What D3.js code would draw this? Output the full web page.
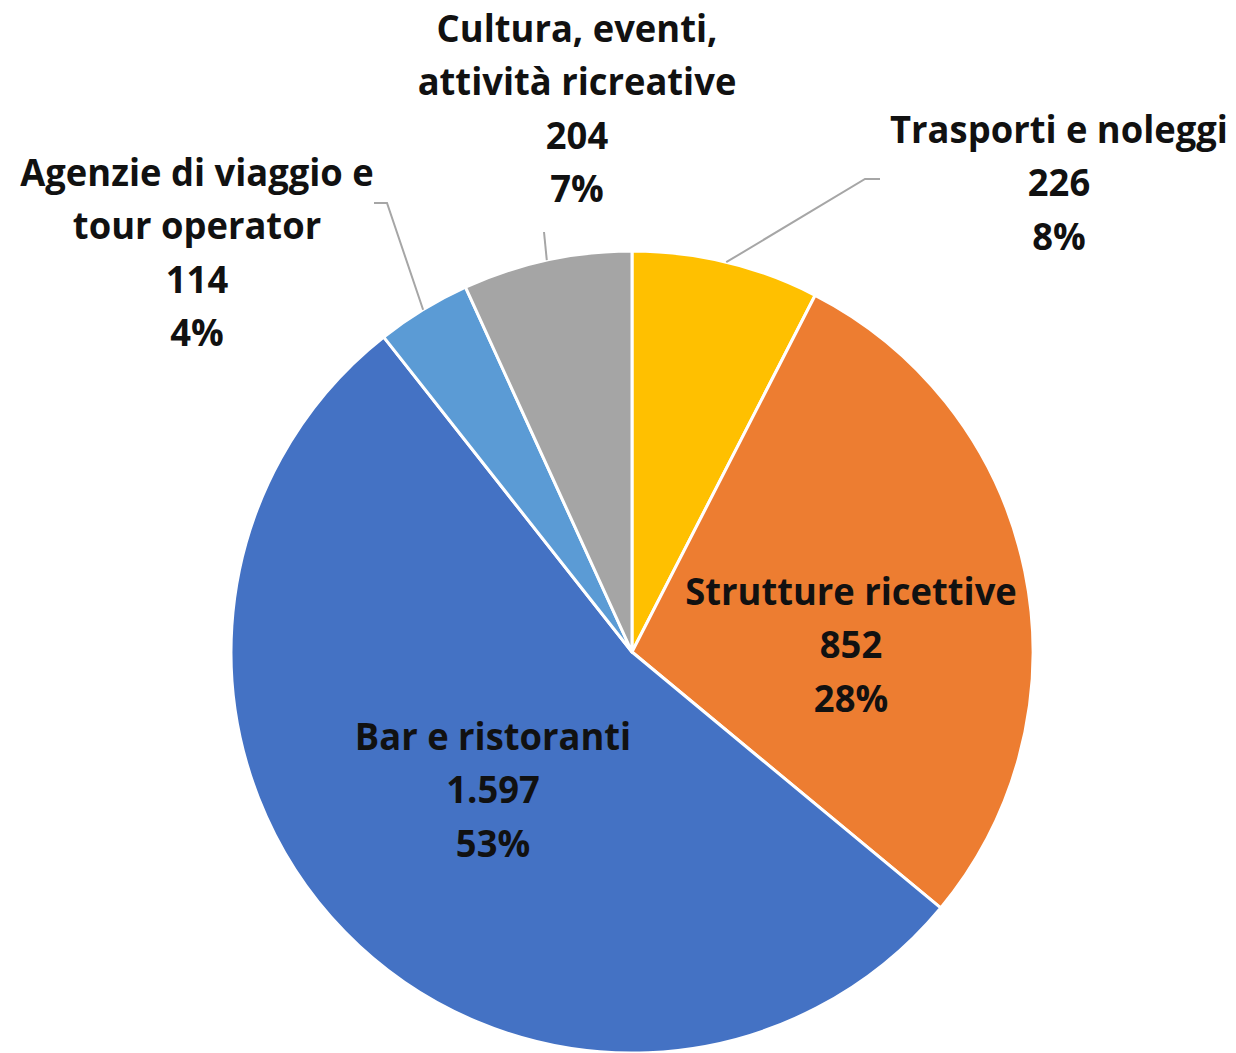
<!DOCTYPE html>
<html>
<head>
<meta charset="utf-8">
<script src="https://cdn.jsdelivr.net/npm/d3@7"></script>
<style>
  html, body { margin: 0; padding: 0; background: #fff; }
  svg { display: block; }
  text { font-family: "Open Sans", Lato, sans-serif; font-weight: 700; fill: #111; }
</style>
</head>
<body>
<svg id="chart" width="1236" height="1053"></svg>
<script>
// ---- data ----
const categories = ["Trasporti e noleggi", "Strutture ricettive", "Bar e ristoranti", "Agenzie di viaggio e tour operator", "Cultura, eventi, attività ricreative"];
const values = [226, 852, 1597, 114, 204];
const valueLabels = ["226", "852", "1.597", "114", "204"];
const percentLabels = ["8%", "28%", "53%", "4%", "7%"];
const labelLines = [
  ["Trasporti e noleggi"],
  ["Strutture ricettive"],
  ["Bar e ristoranti"],
  ["Agenzie di viaggio e", "tour operator"],
  ["Cultura, eventi,", "attività ricreative"]
];
const colors = ["#FFC000", "#ED7D31", "#4472C4", "#5B9BD5", "#A5A5A5"];

// ---- layout (offsets relative to pie centre) ----
const cx = 632, cy = 652, R = 401;
const lineH = 53.5;
const labelLayout = [
  {dx: 427, dy: -509},
  {dx: 219, dy: -47},
  {dx: -139, dy: 98},
  {dx: -435, dy: -466},
  {dx: -55, dy: -610}
];
const leaderLayout = [
  [[233, -473], [248, -473]],
  null,
  null,
  [[-245, -449], [-258, -449]],
  [[-88, -420]]
];

const svg = d3.select("#chart");
const g = svg.append("g").attr("transform", `translate(${cx},${cy})`);

const pie = d3.pie().sort(null).value(d => d)(values);
const arc = d3.arc().innerRadius(0).outerRadius(R);

g.selectAll("path.slice")
  .data(pie)
  .join("path")
  .attr("class", "slice")
  .attr("d", arc)
  .attr("fill", (d, i) => colors[i])
  .attr("stroke", "#fff")
  .attr("stroke-width", 3)
  .attr("stroke-linejoin", "round");

pie.forEach((d, i) => {
  const pts = leaderLayout[i];
  if (!pts) return;
  const a = (d.startAngle + d.endAngle) / 2;
  const start = [R * Math.sin(a), -R * Math.cos(a)];
  g.append("path")
    .attr("d", d3.line()([start, ...pts]))
    .attr("fill", "none")
    .attr("stroke", "#A6A6A6")
    .attr("stroke-width", 2);
});

const fontSize = 38;
const refWidth = 338; // width of "Trasporti e noleggi" in the reference
const groups = [];
pie.forEach((d, i) => {
  const lines = [...labelLines[i], valueLabels[i], percentLabels[i]];
  const lay = labelLayout[i];
  const lg = g.append("g");
  lines.forEach((t, k) => {
    lg.append("text")
      .attr("x", 0)
      .attr("y", k * lineH)
      .attr("text-anchor", "middle")
      .attr("font-size", fontSize)
      .text(t);
  });
  groups.push({lg, lay});
});
const measured = groups[0].lg.select("text").node().getComputedTextLength();
const sx = refWidth / measured;
groups.forEach(({lg, lay}) => lg.attr("transform", `translate(${lay.dx},${lay.dy}) scale(${sx},1)`));
</script>
</body>
</html>
